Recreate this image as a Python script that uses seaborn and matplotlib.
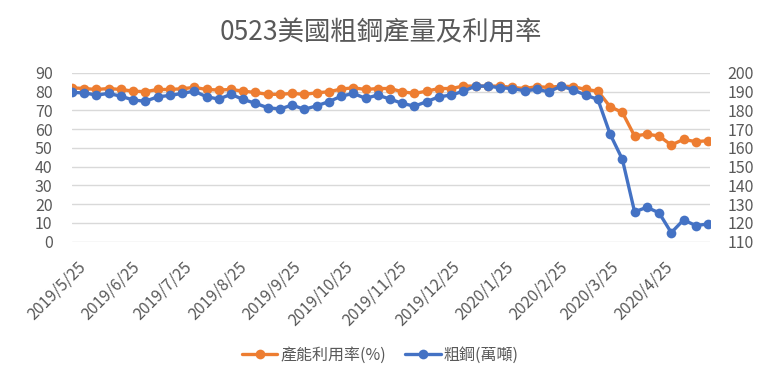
import pandas as pd
import numpy as np
import matplotlib.pyplot as plt
import matplotlib.dates as mdates
import matplotlib.ticker as mticker
import matplotlib.transforms as mtransforms
import seaborn as sns

# --- data (weekly) ---
dates = pd.date_range('2019-05-25', '2020-05-23', freq='7D')

utilization = [82.0, 81.6, 81.1, 81.6, 81.1, 80.2, 79.9, 81.1, 81.1, 81.5,
               82.2, 81.1, 80.8, 81.1, 80.2, 79.5, 78.5, 78.5, 79.0, 78.5,
               79.3, 79.9, 81.3, 82.0, 81.1, 81.6, 81.6, 79.9, 79.0, 80.2,
               81.6, 81.6, 82.9, 82.9, 82.9, 82.9, 82.2, 81.6, 82.6, 82.2,
               82.9, 82.6, 81.1, 80.2, 71.9, 68.9, 56.3, 57.3, 56.3, 51.5,
               54.5, 53.3, 53.8]

crude_steel = [189.5, 189.3, 188.1, 189.0, 187.5, 185.5, 184.8, 187.2, 187.9, 189.0,
               190.2, 187.2, 186.0, 188.5, 185.8, 183.7, 181.4, 180.7, 182.8, 180.5,
               182.4, 184.6, 187.5, 189.0, 186.4, 188.1, 186.0, 183.7, 182.2, 184.6,
               187.2, 188.1, 190.2, 192.9, 192.9, 192.0, 191.6, 190.4, 191.1, 189.9,
               192.9, 190.8, 188.1, 185.8, 167.3, 153.9, 125.9, 128.3, 125.4, 114.8,
               121.6, 118.6, 119.4]

title = '0523美國粗鋼產量及利用率'
util_label = '產能利用率(%)'
steel_label = '粗鋼(萬噸)'

# --- style ---
sns.set_style('white')
plt.rcParams['font.family'] = ['Noto Sans CJK TC', 'DejaVu Sans']
orange = '#ED7D31'
blue = '#4472C4'
gray = '#595959'

fig = plt.figure(figsize=(7.61, 3.83), dpi=100)
ax = fig.add_axes([0.0946, 0.369, 0.838, 0.441])
ax2 = ax.twinx()

sns.lineplot(x=dates, y=utilization, ax=ax, color=orange, linewidth=2.4,
             marker='o', markersize=7, markeredgewidth=0, label=util_label, legend=False)
sns.lineplot(x=dates, y=crude_steel, ax=ax2, color=blue, linewidth=2.4,
             marker='o', markersize=7, markeredgewidth=0, label=steel_label, legend=False)

ax.set_ylim(0, 90)
ax.set_yticks(np.arange(0, 91, 10))
ax2.set_ylim(110, 200)
ax2.set_yticks(np.arange(110, 201, 10))
ax.set_xlim(pd.Timestamp('2019-05-25'), pd.Timestamp('2020-05-24'))

ax.grid(axis='y', color='#D9D9D9', linewidth=1)
ax.grid(axis='x', visible=False)
ax2.grid(False)
for a in (ax, ax2):
    for s in a.spines.values():
        s.set_visible(False)
    a.set_xlabel('')
    a.set_ylabel('')
    a.tick_params(length=0, colors=gray, labelsize=11.5)
ax.tick_params(axis='y', pad=14)
ax2.tick_params(axis='y', pad=13)
ax.tick_params(axis='x', pad=4)

ax.xaxis.set_major_locator(mdates.MonthLocator(bymonthday=25))
ax.xaxis.set_major_formatter(mticker.FuncFormatter(
    lambda v, p: f'{mdates.num2date(v).year}/{mdates.num2date(v).month}/{mdates.num2date(v).day}'))
shift = mtransforms.ScaledTranslation(5 / 100, -11 / 100, fig.dpi_scale_trans)
for lbl in ax.get_xticklabels():
    lbl.set_rotation(45)
    lbl.set_ha('right')
    lbl.set_rotation_mode('anchor')
    lbl.set_transform(lbl.get_transform() + shift)

fig.suptitle(title, y=0.95, fontsize=19, color=gray)

h1, l1 = ax.get_legend_handles_labels()
h2, l2 = ax2.get_legend_handles_labels()
fig.legend(h1 + h2, l1 + l2, loc='center', bbox_to_anchor=(0.5, 0.072), ncol=2,
           frameon=False, fontsize=11.5, labelcolor=gray, handlelength=2.2,
           columnspacing=1.2, handletextpad=0.2)

plt.savefig('out.png', dpi=100)
